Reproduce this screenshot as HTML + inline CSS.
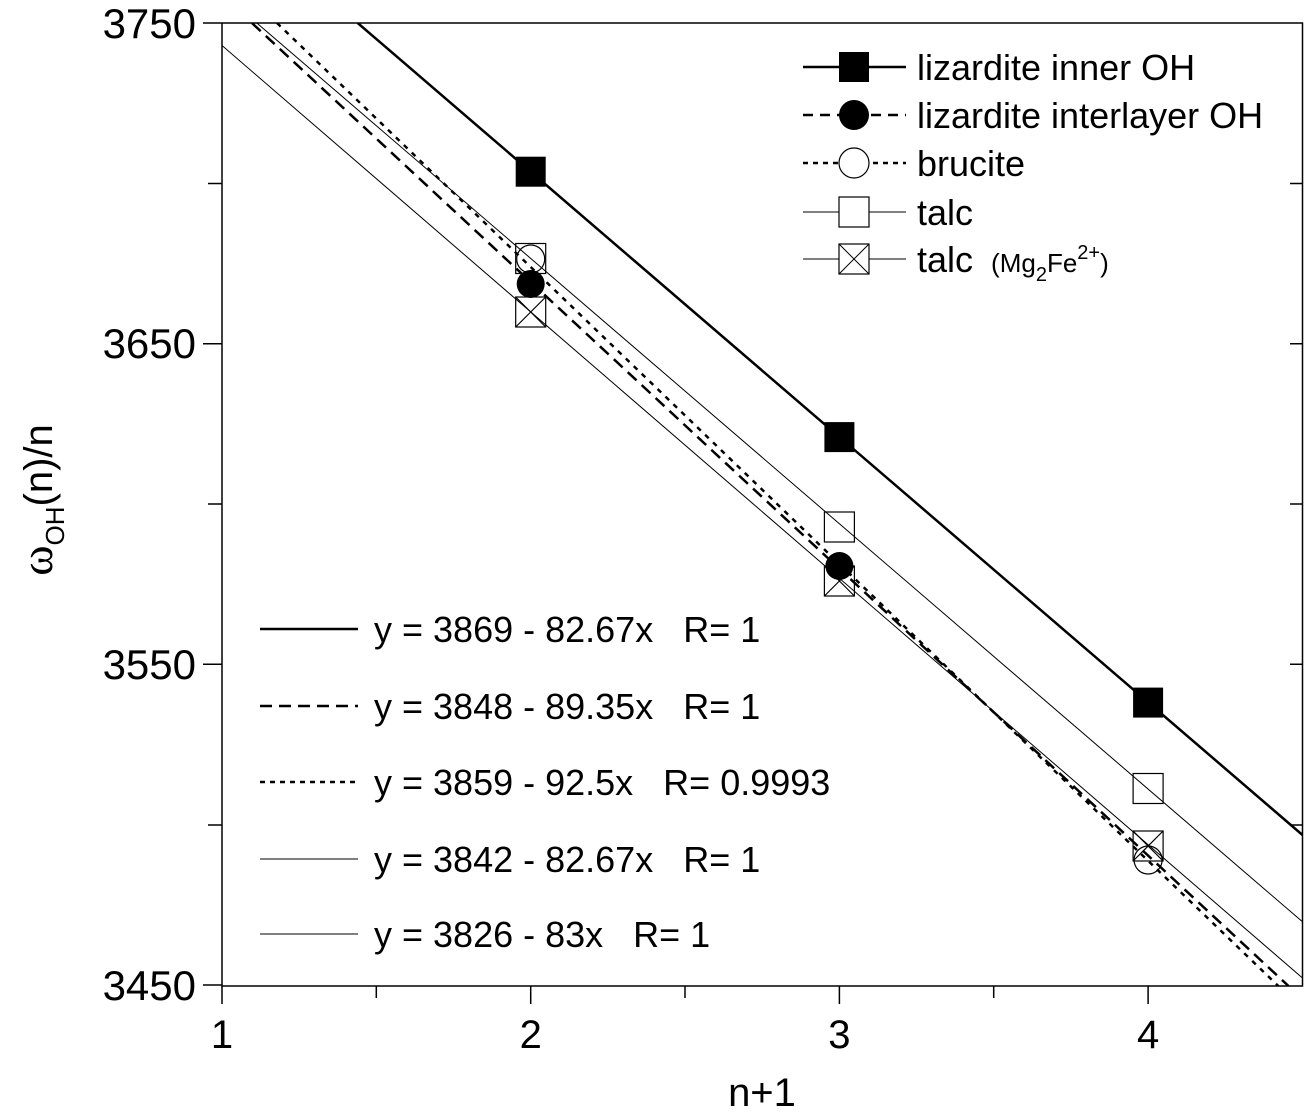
<!DOCTYPE html>
<html><head><meta charset="utf-8"><style>body{margin:0;background:#fff}svg{display:block}.p{white-space:pre}</style></head><body>
<svg width="1316" height="1112" xmlns="http://www.w3.org/2000/svg" font-family="Liberation Sans, Arial, sans-serif">
<rect width="1316" height="1112" fill="#fff"/>
<defs><clipPath id="c"><rect x="222" y="23" width="1081" height="963"/></clipPath></defs>
<g stroke="#000" stroke-width="1.5" fill="none">
<path d="M222 23V986H1302.5V23H222"/>
<path d="M203 23H222M203 343.7H222M203 664.3H222M203 985H222M208 183.5H222M208 504H222M208 825H222"/>
<path d="M1290 183.5H1302M1290 343.7H1302M1290 504H1302M1290 664.3H1302M1290 825H1302"/>
<path d="M222 986V1004M530.7 986V1004M839.4 986V1004M1148.1 986V1004M376.3 986V998M685 986V998M993.7 986V998"/>
</g>
<g clip-path="url(#c)" stroke="#000" fill="none">
<line x1="357.7" y1="23" x2="1302.5" y2="835" stroke-width="2.5"/>
<line x1="251.9" y1="23" x2="1288.5" y2="986" stroke-width="2.5" stroke-dasharray="12,7"/>
<line x1="277" y1="23" x2="1278.3" y2="986" stroke-width="2.5" stroke-dasharray="5,6"/>
<line x1="256.8" y1="23" x2="1302.5" y2="921.8" stroke-width="1"/>
<line x1="222" y1="45.5" x2="1302.5" y2="978" stroke-width="1"/>
</g>
<g fill="#000">
<rect x="515.7" y="156.7" width="30" height="30"/><rect x="824.4" y="422.1" width="30" height="30"/><rect x="1133.1" y="687.6" width="30" height="30"/>
<circle cx="530.7" cy="284" r="14"/><circle cx="839.4" cy="566" r="14"/>
</g>
<g fill="none" stroke="#000" stroke-width="1.2">
<circle cx="530.7" cy="259" r="14"/><circle cx="1148.1" cy="860" r="14"/>
<rect x="515.7" y="243.5" width="30" height="30"/><rect x="824.4" y="512" width="30" height="30"/><rect x="1133.1" y="773.5" width="30" height="30"/>
<rect x="515.7" y="297" width="30" height="30"/><path d="M515.7 297l30 30M545.7 297l-30 30"/>
<rect x="824.4" y="566" width="30" height="30"/><path d="M824.4 566l30 30M854.4 566l-30 30"/>
<rect x="1133.1" y="831" width="30" height="30"/><path d="M1133.1 831l30 30M1163.1 831l-30 30"/>
</g>
<g stroke="#000" fill="none">
<line x1="803" y1="67" x2="906" y2="67" stroke-width="2.5"/>
<line x1="803" y1="115" x2="906" y2="115" stroke-width="2.5" stroke-dasharray="10,7"/>
<line x1="803" y1="163" x2="906" y2="163" stroke-width="2.5" stroke-dasharray="5,5"/>
<line x1="803" y1="212" x2="906" y2="212" stroke-width="1"/>
<line x1="803" y1="259" x2="906" y2="259" stroke-width="1"/>
</g>
<rect x="839" y="52" width="30" height="30" fill="#000"/>
<circle cx="854" cy="115" r="15" fill="#000"/>
<circle cx="854" cy="163" r="15" fill="#fff" stroke="#000" stroke-width="1.2"/>
<rect x="839" y="197" width="30" height="30" fill="#fff" stroke="#000" stroke-width="1.2"/>
<rect x="839" y="244" width="30" height="30" fill="#fff" stroke="#000" stroke-width="1.2"/>
<path d="M839 244l30 30M869 244l-30 30" stroke="#000" stroke-width="1"/>
<g font-size="36" fill="#000">
<text x="917" y="80">lizardite inner OH</text>
<text x="917" y="128">lizardite interlayer OH</text>
<text x="917" y="176">brucite</text>
<text x="917" y="225">talc</text>
<text x="917" y="272">talc <tspan font-size="26" dx="8">(Mg</tspan><tspan font-size="20" dy="9">2</tspan><tspan font-size="26" dy="-9">Fe</tspan><tspan font-size="20" dy="-13">2+</tspan><tspan font-size="26" dy="13">)</tspan></text>
</g>
<g stroke="#000" fill="none">
<line x1="260" y1="629" x2="358" y2="629" stroke-width="2.5"/>
<line x1="260" y1="706" x2="358" y2="706" stroke-width="2.5" stroke-dasharray="12,7"/>
<line x1="260" y1="782" x2="358" y2="782" stroke-width="2.5" stroke-dasharray="5,5"/>
<line x1="260" y1="859" x2="358" y2="859" stroke-width="1"/>
<line x1="260" y1="934" x2="358" y2="934" stroke-width="1"/>
</g>
<g font-size="36" fill="#000" class="p">
<text x="374" y="642" class="p">y = 3869 - 82.67x   R= 1</text>
<text x="374" y="719" class="p">y = 3848 - 89.35x   R= 1</text>
<text x="374" y="795" class="p">y = 3859 - 92.5x   R= 0.9993</text>
<text x="374" y="872" class="p">y = 3842 - 82.67x   R= 1</text>
<text x="374" y="947" class="p">y = 3826 - 83x   R= 1</text>
</g>
<g font-size="42" fill="#000" text-anchor="end">
<text x="196" y="38">3750</text><text x="196" y="358">3650</text><text x="196" y="679">3550</text><text x="196" y="1000">3450</text>
</g>
<g font-size="40" fill="#000" text-anchor="middle">
<text x="222" y="1048">1</text><text x="530.7" y="1048">2</text><text x="839.4" y="1048">3</text><text x="1148.1" y="1048">4</text>
<text x="762" y="1106">n+1</text>
</g>
<text transform="translate(52,500) rotate(-90)" font-size="40" text-anchor="middle" fill="#000"><tspan font-family="Liberation Serif, serif" font-size="46">ω</tspan><tspan font-size="26" dy="12">OH</tspan><tspan dy="-12">(n)/n</tspan></text>
</svg>
</body></html>
